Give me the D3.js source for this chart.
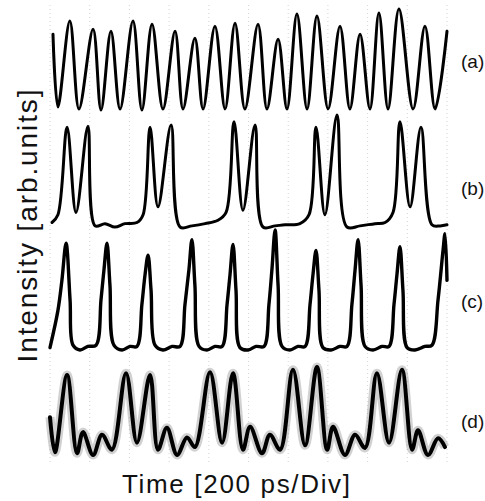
<!DOCTYPE html>
<html>
<head>
<meta charset="utf-8">
<script src="https://cdn.jsdelivr.net/npm/d3@7"></script>
<style>
  body { margin: 0; background: #fff; }
  svg { display: block; }
  text { font-family: "Liberation Sans", Arial, sans-serif; fill: #111; }
</style>
</head>
<body>
<div id="chart"></div>
<script>
// time in ps (200 ps/div, 10 div), intensity normalised 0..1 per trace
var traceLabels = ["(a)", "(b)", "(c)", "(d)"];

var timeA = [15, 40, 100, 146, 217, 257, 307, 353, 418, 463, 514, 569, 630, 670, 730, 771, 831, 882, 932, 982,
             1048, 1093, 1149, 1194, 1244, 1295, 1345, 1401, 1461, 1511, 1562, 1612, 1657, 1703, 1758, 1829, 1889, 1940, 2000];
var valA  = [0.75, 0.03, 0.88, 0.01, 0.80, 0.0, 0.78, 0.01, 0.88, 0.0, 0.85, 0.01, 0.78, 0.01, 0.71, 0.01, 0.83, 0.01, 0.86, 0.01,
             0.85, 0.01, 0.70, 0.01, 0.95, 0.01, 0.93, 0.01, 0.83, 0.01, 0.75, 0.01, 0.96, 0.01, 1.0, 0.01, 0.83, 0.01, 0.78];

var timeB = [10, 40, 86, 131, 191, 227, 277, 327, 378, 438, 469, 504, 544, 610, 655, 715, 781, 846, 887, 927, 972, 1033, 1073,
             1134, 1184, 1259, 1305, 1340, 1385, 1446, 1496, 1562, 1637, 1688, 1728, 1763, 1814, 1869, 1924, 1965, 2000];
var valB  = [0.04, 0.11, 0.89, 0.13, 0.90, 0.01, 0.03, 0.0, 0.03, 0.04, 0.11, 0.89, 0.18, 0.91, 0.0, 0.01, 0.03, 0.06, 0.13, 0.94, 0.15, 0.91, 0.0,
             0.01, 0.02, 0.03, 0.11, 0.89, 0.11, 1.0, 0.0, 0.01, 0.03, 0.04, 0.13, 0.94, 0.18, 0.89, 0.02, 0.01, 0.02];

var timeC = [0, 40, 60, 81, 101, 116, 151, 191,
             232, 257, 272, 287, 302, 322, 363, 403,
             438, 463, 479, 494, 509, 529, 569, 615,
             655, 680, 700, 715, 730, 751, 791, 831,
             867, 892, 907, 922, 937, 957, 998, 1038,
             1078, 1103, 1118, 1134, 1149, 1169, 1209, 1249,
             1285, 1310, 1325, 1340, 1355, 1375, 1416, 1461,
             1496, 1521, 1537, 1552, 1567, 1587, 1627, 1673,
             1708, 1733, 1748, 1763, 1778, 1799, 1839, 1889,
             1924, 1955, 1980, 1990, 2000];
var valC  = [0.02, 0.33, 0.58, 0.89, 0.42, 0.04, 0.0, 0.03,
             0.04, 0.42, 0.67, 0.89, 0.54, 0.04, 0.0, 0.03,
             0.03, 0.38, 0.63, 0.79, 0.50, 0.04, 0.0, 0.03,
             0.03, 0.38, 0.67, 0.92, 0.54, 0.03, 0.0, 0.03,
             0.03, 0.38, 0.63, 0.88, 0.50, 0.02, 0.0, 0.03,
             0.03, 0.38, 0.67, 1.0, 0.54, 0.03, 0.0, 0.03,
             0.03, 0.38, 0.63, 0.83, 0.50, 0.02, 0.0, 0.03,
             0.03, 0.38, 0.67, 0.92, 0.54, 0.03, 0.0, 0.03,
             0.03, 0.38, 0.63, 0.86, 0.50, 0.02, 0.0, 0.03,
             0.04, 0.42, 0.83, 0.97, 0.58];

var timeD = [0, 25, 86, 136, 166, 217, 262, 312, 383, 438, 504, 544, 589, 640, 690, 730, 806, 867, 922, 972, 1008, 1068,
             1108, 1159, 1224, 1285, 1345, 1396, 1426, 1486, 1537, 1587, 1647, 1708, 1773, 1824, 1854, 1904, 1955, 1990];
var valD  = [0.43, 0.03, 0.91, 0.02, 0.26, 0.0, 0.23, 0.06, 0.93, 0.14, 0.91, 0.06, 0.31, 0.0, 0.20, 0.09, 0.94, 0.14, 0.93, 0.06, 0.32, 0.02,
             0.23, 0.06, 0.97, 0.11, 1.0, 0.06, 0.32, 0.0, 0.23, 0.08, 0.93, 0.14, 0.97, 0.06, 0.28, 0.0, 0.19, 0.09];

var traces = [
  {label: traceLabels[0], t: timeA, v: valA, top: 9,   bottom: 110, sw: 3,   ly: 68},
  {label: traceLabels[1], t: timeB, v: valB, top: 115, bottom: 227, sw: 3,   ly: 195},
  {label: traceLabels[2], t: timeC, v: valC, top: 230, bottom: 350, sw: 3.4, ly: 308},
  {label: traceLabels[3], t: timeD, v: valD, top: 367, bottom: 455, sw: 4,   ly: 428}
];

var width = 485, height = 501;

var svg = d3.select("#chart")
  .append("svg")
    .attr("width", width)
    .attr("height", height);

var x = d3.scaleLinear()
  .domain([0, 2000])
  .range([50, 447]);

// faint dotted oscilloscope grid
svg.append("g")
  .selectAll("line")
  .data(d3.range(0, 2001, 200))
  .enter()
  .append("line")
    .attr("x1", function(d) { return x(d); })
    .attr("x2", function(d) { return x(d); })
    .attr("y1", 5)
    .attr("y2", 462)
    .attr("stroke", "#bbb")
    .attr("stroke-width", 1)
    .attr("stroke-dasharray", "1,3")
    .attr("opacity", 0.6);

traces.forEach(function(tr, i) {
  var y = d3.scaleLinear()
    .domain([0, 1])
    .range([tr.bottom, tr.top]);

  var pts = tr.t.map(function(t, k) { return [t, tr.v[k]]; });

  var line = d3.line()
    .curve(d3.curveCatmullRom.alpha(0.5))
    .x(function(d) { return x(d[0]); })
    .y(function(d) { return y(d[1]); });

  if (i == 3) {
    // grainy grey halo seen round trace (d)
    svg.append("path")
      .datum(pts)
      .attr("fill", "none")
      .attr("stroke", "#999")
      .attr("stroke-width", 9)
      .attr("stroke-linejoin", "round")
      .attr("opacity", 0.45)
      .attr("d", line);
  }

  svg.append("path")
    .datum(pts)
    .attr("fill", "none")
    .attr("stroke", "#000")
    .attr("stroke-width", tr.sw)
    .attr("stroke-linejoin", "round")
    .attr("stroke-linecap", "round")
    .attr("d", line);

  svg.append("text")
    .attr("x", 461)
    .attr("y", tr.ly)
    .attr("font-size", 19)
    .text(tr.label);
});

svg.append("text")
  .attr("transform", "translate(37,226) rotate(-90)")
  .attr("text-anchor", "middle")
  .attr("font-size", 28)
  .attr("textLength", 273)
  .attr("lengthAdjust", "spacing")
  .text("Intensity [arb.units]");

svg.append("text")
  .attr("x", 122)
  .attr("y", 493)
  .attr("font-size", 26)
  .attr("textLength", 228)
  .attr("lengthAdjust", "spacing")
  .text("Time [200 ps/Div]");
</script>
</body>
</html>
